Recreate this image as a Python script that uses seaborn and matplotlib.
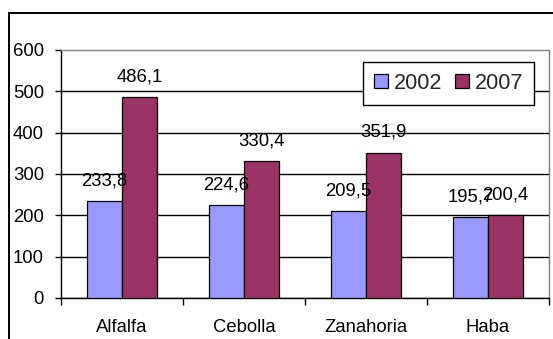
import matplotlib
matplotlib.use("Agg")
import matplotlib.pyplot as plt
from matplotlib.patches import Rectangle
from matplotlib.ticker import FixedLocator
import seaborn as sns
import pandas as pd

# Production by crop, two survey years
cultivos = ["Alfalfa", "Cebolla", "Zanahoria", "Haba"]
anios = ["2002", "2007"]
valores_2002 = [233.8, 224.6, 209.5, 195.7]
valores_2007 = [486.1, 330.4, 351.9, 200.4]
y_ticks = [0, 100, 200, 300, 400, 500, 600]
colores = ["#9999FF", "#993366"]

df = pd.DataFrame({
    "cultivo": cultivos * 2,
    "anio": [anios[0]] * len(cultivos) + [anios[1]] * len(cultivos),
    "valor": valores_2002 + valores_2007,
})

sns.set_theme(style="white")
plt.rcParams["font.family"] = ["Liberation Sans", "DejaVu Sans"]

W, H, DPI = 553, 339, 100
fig = plt.figure(figsize=(W / DPI, H / DPI), dpi=DPI)
ax = fig.add_axes([61 / W, 1 - 298 / H, (549 - 61) / W, (298 - 50) / H])

sns.barplot(data=df, x="cultivo", y="valor", hue="anio", palette=colores,
            width=0.58, gap=0, edgecolor="black", linewidth=0.9,
            saturation=1, ax=ax, zorder=3)

ax.set_xlim(-0.5, len(cultivos) - 0.5)
ax.set_ylim(y_ticks[0], y_ticks[-1])
ax.set_yticks(y_ticks)
ax.set_xlabel("")
ax.set_ylabel("")

# value labels with decimal comma
for cont in ax.containers:
    etiquetas = [f"{b.get_height():.1f}".replace(".", ",") for b in cont]
    ax.bar_label(cont, labels=etiquetas, padding=8.5, fontsize=13.3,
                 color="black", zorder=5)

# horizontal gridlines
ax.yaxis.grid(True, color="black", linewidth=1.0, zorder=0)
ax.xaxis.grid(False)
ax.yaxis.get_gridlines()[-1].set_visible(False)

# spines
for s in ["left", "bottom"]:
    ax.spines[s].set_color("black")
    ax.spines[s].set_linewidth(1.0)
for s in ["top", "right"]:
    ax.spines[s].set_color("#808080")
    ax.spines[s].set_linewidth(1.0)

# ticks: category boundaries get marks, labels sit at centers
ax.xaxis.set_minor_locator(FixedLocator([i - 0.5 for i in range(len(cultivos) + 1)]))
ax.tick_params(axis="x", which="major", length=0, pad=15, labelsize=13.3,
               colors="black")
ax.tick_params(axis="x", which="minor", bottom=True, length=5, width=1.0,
               color="black", direction="out")
ax.tick_params(axis="y", which="major", left=True, length=4.3, width=1.0,
               color="black", direction="out", pad=8, labelsize=13.3,
               labelcolor="black")

leg = ax.legend(loc="upper right", bbox_to_anchor=(0.969, 0.952),
                borderaxespad=0, ncol=2, fontsize=15.6, frameon=True,
                fancybox=False, edgecolor="black", framealpha=1,
                handlelength=0.65, handleheight=0.65, handletextpad=0.25,
                columnspacing=0.6, borderpad=0.5)
leg.get_frame().set_linewidth(1.0)
leg.set_title(None)
leg.set_zorder(6)

# outer chart frame
fig.patches.append(Rectangle((9 / W, -0.2), 1.5, (1 - 13 / H) + 0.2,
                             transform=fig.transFigure, fill=False,
                             edgecolor="black", linewidth=1.4))

fig.savefig("out.png", dpi=DPI, facecolor="white")
